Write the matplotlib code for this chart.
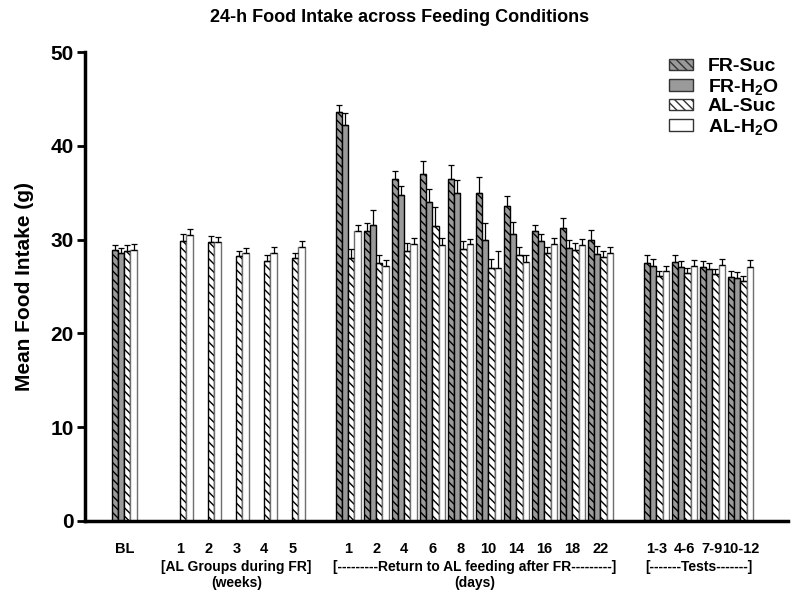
import numpy as np
import matplotlib
matplotlib.use("Agg")
import matplotlib.pyplot as plt
from matplotlib.patches import Patch
from matplotlib.transforms import blended_transform_factory

plt.rcParams["font.family"] = ["Liberation Sans", "DejaVu Sans"]
plt.rcParams["font.weight"] = "bold"
plt.rcParams["mathtext.fontset"] = "custom"
plt.rcParams["mathtext.rm"] = "Liberation Sans:bold"
plt.rcParams["mathtext.bf"] = "Liberation Sans:bold"
plt.rcParams["mathtext.default"] = "bf"
plt.rcParams["hatch.linewidth"] = 1.0

# ── Data ───────────────────────────────────────────────────
series_names = ["FR-Suc", r"FR-H$_2$O", "AL-Suc", r"AL-H$_2$O"]

tick_labels = ["BL", "1", "2", "3", "4", "5",
               "1", "2", "4", "6", "8", "10", "14", "16", "18", "22",
               "1-3", "4-6", "7-9", "10-12"]
# slot index of each group along the axis (empty slots separate sections)
group_pos = [0, 2, 3, 4, 5, 6, 8, 9, 10, 11, 12, 13, 14, 15, 16, 17, 19, 20, 21, 22]

nan = np.nan
fr_suc = [28.9, nan, nan, nan, nan, nan,
          43.6, 30.9, 36.5, 37.0, 36.5, 35.0, 33.6, 30.9, 31.2, 30.0,
          27.5, 27.6, 27.1, 26.0]
fr_h2o = [28.6, nan, nan, nan, nan, nan,
          42.2, 31.6, 34.8, 34.0, 35.0, 30.0, 30.6, 29.8, 29.1, 28.5,
          27.2, 27.1, 26.9, 25.9]
al_suc = [28.8, 29.8, 29.7, 28.2, 27.7, 28.0,
          28.0, 27.5, 28.8, 31.4, 29.0, 27.0, 28.3, 28.6, 28.9, 28.1,
          26.1, 26.4, 26.3, 25.6]
al_h2o = [28.9, 30.5, 29.7, 28.6, 28.6, 29.2,
          30.9, 27.2, 29.5, 29.4, 29.5, 27.0, 27.6, 29.5, 29.4, 28.6,
          26.6, 27.2, 27.3, 27.1]

fr_suc_err = [0.5, nan, nan, nan, nan, nan,
              0.7, 0.9, 0.8, 1.4, 1.4, 1.7, 1.0, 0.6, 1.1, 1.0,
              0.8, 0.8, 0.6, 0.7]
fr_h2o_err = [0.5, nan, nan, nan, nan, nan,
              1.3, 1.5, 0.9, 1.4, 1.3, 1.8, 1.3, 0.8, 0.8, 0.8,
              0.7, 0.6, 0.6, 0.6]
al_suc_err = [0.6, 0.8, 0.7, 0.6, 0.7, 0.6,
              1.0, 0.9, 0.8, 2.1, 0.8, 0.9, 0.9, 0.6, 0.7, 0.7,
              0.6, 0.6, 0.6, 0.5]
al_h2o_err = [0.6, 0.6, 0.6, 0.5, 0.6, 0.6,
              0.6, 0.6, 0.7, 0.8, 0.6, 1.8, 0.8, 0.7, 0.7, 0.6,
              0.6, 0.6, 0.6, 0.7]

section_labels = ["[AL Groups during FR]\n(weeks)",
                  "[---------Return to AL feeding after FR---------]\n(days)",
                  "[-------Tests-------]"]
section_centers = [4, 12.5, 20.5]

# ── Plot ───────────────────────────────────────────────────
fig = plt.figure(figsize=(8.0, 5.98), dpi=100)
ax = fig.add_axes([0.106, 0.129, 0.879, 0.784])

width = 0.22
styles = [
    dict(color="#9a9a9a", hatch="\\\\\\\\", edgecolor="black"),
    dict(color="#9a9a9a", hatch=None, edgecolor="black"),
    dict(color="white", hatch="\\\\\\\\", edgecolor="black"),
    dict(color="white", hatch=None, edgecolor="#6e6e6e"),
]
values = [fr_suc, fr_h2o, al_suc, al_h2o]
errors = [fr_suc_err, fr_h2o_err, al_suc_err, al_h2o_err]
x = np.array(group_pos, dtype=float)

for k, (vals, errs, st) in enumerate(zip(values, errors, styles)):
    xs = x + (k - 1.5) * width
    vals = np.array(vals)
    errs = np.array(errs)
    ok = ~np.isnan(vals)
    ax.bar(xs[ok], vals[ok], width, facecolor=st["color"], hatch=st["hatch"],
           edgecolor=st["edgecolor"], linewidth=1.0, zorder=2)
    ax.errorbar(xs[ok], vals[ok], yerr=[np.zeros(ok.sum()), errs[ok]],
                fmt="none", ecolor="black", elinewidth=0.9, capsize=2,
                capthick=0.9, zorder=3)

ax.set_xlim(-1.41, 23.7)
ax.set_ylim(0, 50)
ax.set_yticks([0, 10, 20, 30, 40, 50])
ax.set_xticks(x)
ax.set_xticklabels(tick_labels, fontsize=10.5, fontweight="bold")
ax.tick_params(axis="x", length=0, pad=15)
ax.tick_params(axis="y", labelsize=15, width=2, length=6, direction="out", pad=2)
for lab in ax.get_yticklabels():
    lab.set_fontweight("bold")

for side in ["top", "right"]:
    ax.spines[side].set_visible(False)
ax.spines["left"].set_linewidth(2.5)
ax.spines["bottom"].set_linewidth(2.5)

ax.set_ylabel("Mean Food Intake (g)", fontsize=15, fontweight="bold", labelpad=12)
fig.text(0.5, 0.97, "24-h Food Intake across Feeding Conditions", ha="center",
         va="center", fontsize=13, fontweight="bold")

trans = blended_transform_factory(ax.transData, ax.transAxes)
for lab, cx in zip(section_labels, section_centers):
    ax.text(cx, -0.083, lab, transform=trans, ha="center", va="top",
            fontsize=10, fontweight="bold", linespacing=1.2)

handles = [Patch(facecolor=st["color"], hatch=st["hatch"], edgecolor="#333333",
                 linewidth=1.0) for st in styles]
ax.legend(handles, series_names, loc="upper right", bbox_to_anchor=(1.012, 1.024),
          frameon=False, prop={"size": 14, "weight": "bold"},
          handlelength=1.25, handleheight=0.55, labelspacing=0.08, handletextpad=0.75)

plt.savefig("out.png", dpi=100)
plt.close()
